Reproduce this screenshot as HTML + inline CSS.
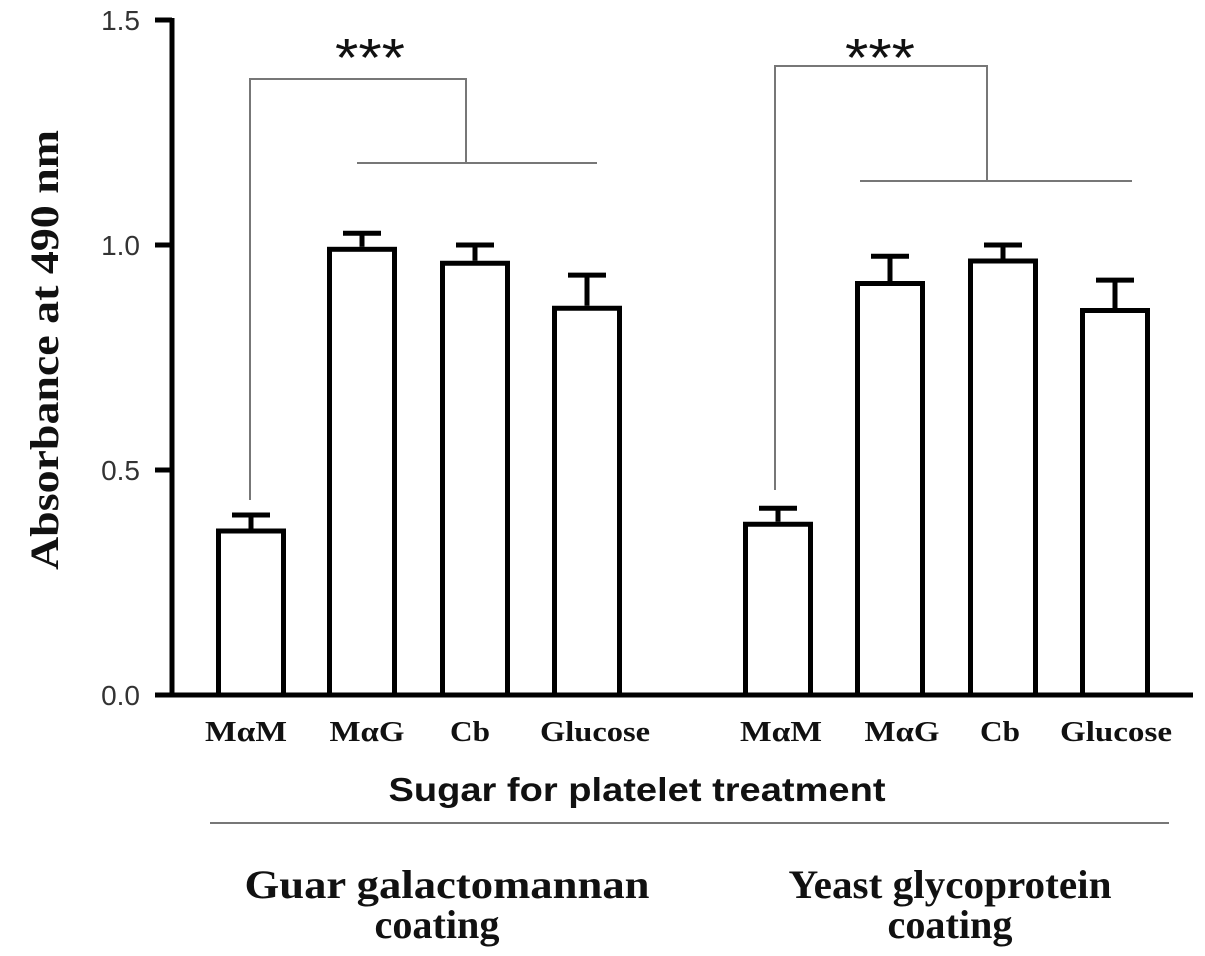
<!DOCTYPE html>
<html><head><meta charset="utf-8"><style>
html,body{margin:0;padding:0;background:#fff;}
svg{display:block;}
</style></head><body>
<svg id="chart" width="1205" height="956" viewBox="0 0 1205 956" xmlns="http://www.w3.org/2000/svg">
<g id="axes"></g>
<g id="bars"></g>
<g id="brackets"></g>
<g id="labels"></g>
</svg>
<script>
const categories = ["MαM","MαG","Cb","Glucose","MαM","MαG","Cb","Glucose"];
const values = [0.37, 0.996, 0.965, 0.865, 0.385, 0.92, 0.97, 0.86];
const errors = [0.03, 0.03, 0.035, 0.068, 0.03, 0.055, 0.03, 0.062];
const yTicks = [0, 0.5, 1.0, 1.5];
const yTickLabels = ["0.0","0.5","1.0","1.5"];
const groupLabels = [["Guar galactomannan","coating"],["Yeast glycoprotein","coating"]];

const NS = "http://www.w3.org/2000/svg";
const y0 = 695, yPerUnit = 450;
function yScale(v){ return y0 - v*yPerUnit; }
const barLefts = [216, 327, 440, 552, 743, 855, 968, 1080];
const barW = 70;
function xScale(i){ return barLefts[i]; }
function mk(tag, attrs, parent){
  const e = document.createElementNS(NS, tag);
  for (const k in attrs) e.setAttribute(k, attrs[k]);
  parent.appendChild(e);
  return e;
}
const axes = document.getElementById('axes');
const bars = document.getElementById('bars');
const br = document.getElementById('brackets');
const lab = document.getElementById('labels');

const ya = mk('line',{x1:172,y1:yScale(1.5)-2,x2:172,y2:y0+2.5,stroke:'#000','stroke-width':5},axes);


const xa = mk('line',{x1:170,y1:y0,x2:1193,y2:y0,stroke:'#000','stroke-width':5},axes);


yTicks.forEach((t,i)=>{
  const tk = mk('line',{x1:155,y1:yScale(t),x2:172,y2:yScale(t),stroke:'#000','stroke-width':5},axes);
  
  
  const tl = mk('text',{x:140,y:yScale(t)+10,'text-anchor':'end','font-family':'Liberation Sans, sans-serif','font-size':28,fill:'#333'},axes);
  tl.textContent = yTickLabels[i];
  
  
});

const labelCenters = [246, 367, 470, 595, 781, 902, 1000, 1116];
const labelWidths = [82, 75, 40, 110, 82, 75, 40, 112];
categories.forEach((c,i)=>{
  const x = xScale(i), v = values[i], e = errors[i];
  const cx = x + barW/2;
  const err = mk('line',{x1:cx,y1:yScale(v),x2:cx,y2:yScale(v+e),stroke:'#000','stroke-width':5},bars);
  
  
  const cap = mk('line',{x1:cx-19,y1:yScale(v+e),x2:cx+19,y2:yScale(v+e),stroke:'#000','stroke-width':5},bars);
  
  
  const r = mk('rect',{x:x+2.5,y:yScale(v)+2.5,width:barW-5,height:y0-yScale(v)-2.5,fill:'#fff',stroke:'#000','stroke-width':5},bars);
  
  
  const t = mk('text',{x:labelCenters[i],y:741,'text-anchor':'middle','font-family':'Liberation Serif, serif','font-weight':'bold','font-size':29,fill:'#111',textLength:labelWidths[i],lengthAdjust:'spacingAndGlyphs'},lab);
  t.textContent = c;
  
  
});

function bracket(xl, ybot, ytop, xr, yh, hl, hr, sx){
  const p = mk('path',{d:`M${xl},${ybot} V${ytop} H${xr} V${yh} M${hl},${yh} H${hr}`,fill:'none',stroke:'#777','stroke-width':2},br);
  
  
  const s = mk('text',{x:sx,y:76,'text-anchor':'middle','font-family':'Liberation Sans, sans-serif','font-size':54,fill:'#111',textLength:70,lengthAdjust:'spacingAndGlyphs'},br);
  s.textContent = '***';
  
  
}
bracket(250, 500, 79, 466, 163, 357, 597, 370);
bracket(775, 490, 66, 987, 181, 860, 1132, 880);

const xt = mk('text',{x:637,y:801,'text-anchor':'middle','font-family':'Liberation Sans, sans-serif','font-weight':'bold','font-size':33,fill:'#111',textLength:497,lengthAdjust:'spacingAndGlyphs'},lab);
xt.textContent = 'Sugar for platelet treatment';


const sep = mk('line',{x1:210,y1:823,x2:1169,y2:823,stroke:'#777','stroke-width':2},lab);


const groupCenters = [447, 950];
const groupWidths = [[405,125],[323,125]];
groupCenters.forEach((gx,gi)=>{
  groupLabels[gi].forEach((line,li)=>{
    const g = mk('text',{x:gx - (li===1 && gi===0 ? 10 : 0),y:898+li*40,'text-anchor':'middle','font-family':'Liberation Serif, serif','font-weight':'bold','font-size':40,fill:'#111',textLength:groupWidths[gi][li],lengthAdjust:'spacingAndGlyphs'},lab);
    g.textContent = line;
    
    
  });
});
const yt = mk('text',{x:0,y:0,transform:'translate(58,350) rotate(-90)','text-anchor':'middle','font-family':'Liberation Serif, serif','font-weight':'bold','font-size':40,fill:'#111',textLength:440,lengthAdjust:'spacingAndGlyphs'},lab);
yt.textContent = 'Absorbance at 490 nm';


</script>
</body></html>
